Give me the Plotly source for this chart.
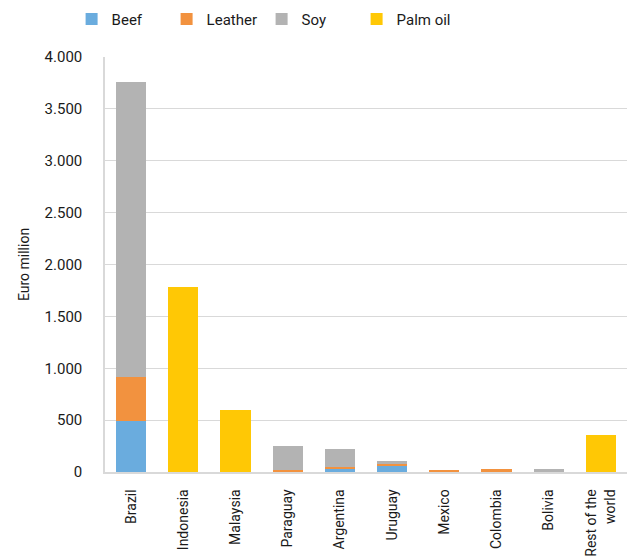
import plotly.graph_objects as go

countries = ["Brazil", "Indonesia", "Malaysia", "Paraguay", "Argentina", "Uruguay",
             "Mexico", "Colombia", "Bolivia", "Rest of the<br>world"]
beef = [489, 0, 0, 3, 30, 55, 0, 0, 0, 0]
leather = [426, 0, 0, 15, 22, 22, 20, 25, 0, 0]
soy = [2847, 0, 0, 229, 167, 26, 0, 0, 25, 0]
palm_oil = [0, 1782, 602, 0, 0, 0, 0, 0, 0, 355]

series = [("Beef", beef, "#6AACDE"), ("Leather", leather, "#F2923F"),
          ("Soy", soy, "#B3B3B3"), ("Palm oil", palm_oil, "#FFC805")]

FONT = "Roboto, sans-serif"

fig = go.Figure()
for name, vals, col in series:
    fig.add_trace(go.Bar(x=countries, y=vals, name=name, marker_color=col,
                         marker_line=dict(width=0)))

fig.update_layout(
    barmode="stack",
    bargap=0.42,
    width=629, height=558,
    margin=dict(l=105, r=2, t=57, b=86, autoexpand=False),
    paper_bgcolor="white", plot_bgcolor="white",
    separators=",.",
    font=dict(family=FONT, size=15, color="#1a1a1a"),
    legend=dict(orientation="h", x=0.3, xanchor="center", y=0.995, yanchor="top",
                yref="container", font=dict(size=15), itemwidth=30,
                entrywidth=50, traceorder="normal"),
    xaxis=dict(tickangle=-90, showline=True, linecolor="#D9D9D9", linewidth=1.5,
               ticks="", tickfont=dict(size=14), ticklabelstandoff=10,
               automargin=False),
    yaxis=dict(range=[0, 4000], dtick=500, tickformat=",.0f",
               showgrid=True, gridcolor="#D9D9D9", gridwidth=1.2,
               showline=True, linecolor="#D9D9D9", linewidth=1.5, zeroline=False,
               ticks="", tickfont=dict(size=15), ticklabelstandoff=18,
               automargin=False,
               title=dict(text="Euro million", font=dict(size=14), standoff=12)),
)

fig.write_html("out.html")
